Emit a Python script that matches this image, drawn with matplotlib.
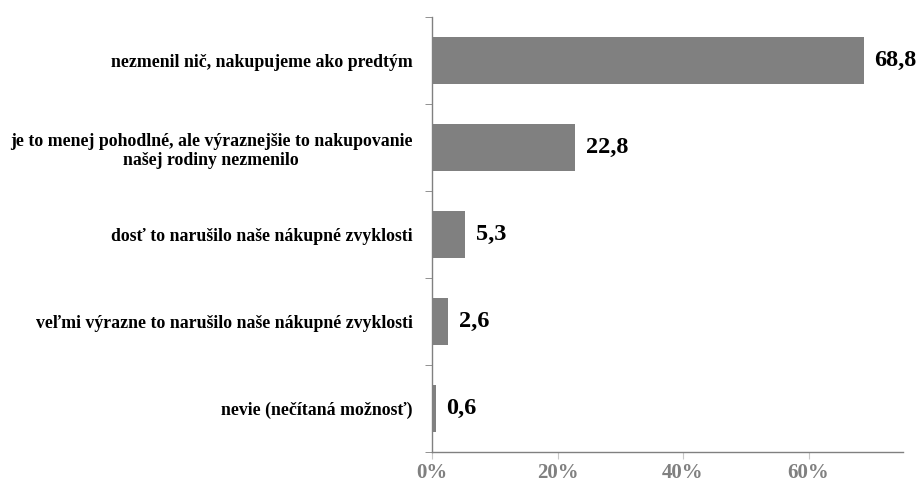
import matplotlib.pyplot as plt
from matplotlib.ticker import FixedLocator

categories = [
    "nezmenil nič, nakupujeme ako predtým",
    "je to menej pohodlné, ale výraznejšie to nakupovanie\nnašej rodiny nezmenilo",
    "dosť to narušilo naše nákupné zvyklosti",
    "veľmi výrazne to narušilo naše nákupné zvyklosti",
    "nevie (nečítaná možnosť)",
]
values = [68.8, 22.8, 5.3, 2.6, 0.6]
value_labels = ["68,8", "22,8", "5,3", "2,6", "0,6"]
x_ticks = [0, 20, 40, 60]
x_tick_labels = ["0%", "20%", "40%", "60%"]

plt.rcParams['font.family'] = ['Liberation Serif', 'DejaVu Serif']
plt.rcParams['font.weight'] = 'bold'

fig = plt.figure(figsize=(9.21, 4.84), dpi=100)
ax = fig.add_axes([432 / 921, 1 - 452 / 484, (902.7 - 432) / 921, (452 - 17) / 484])

grey = '#808080'
pos = list(range(len(categories)))
ax.barh(pos, values, height=0.55, color=grey)
ax.set_ylim(len(categories) - 0.5, -0.5)
ax.set_xlim(0, 75)

for p, v, lab in zip(pos, values, value_labels):
    ax.text(v + 1.7, p, lab, va='center', ha='left', fontsize=17.5,
            fontweight='bold', color='black')

# category labels
ax.set_yticks(pos)
ax.set_yticklabels(categories, fontsize=12.8, fontweight='bold', color='black',
                   multialignment='center')
ax.tick_params(axis='y', length=0, pad=14)
# boundary ticks on the y axis
ax.yaxis.set_minor_locator(FixedLocator([p - 0.5 for p in pos] + [len(pos) - 0.5]))
ax.tick_params(axis='y', which='minor', length=5, color=grey, direction='out')

ax.set_xticks(x_ticks)
ax.set_xticklabels(x_tick_labels, fontsize=15, fontweight='bold', color=grey)
ax.tick_params(axis='x', length=5, color='#c8c8c8', direction='out', pad=3)

for s in ['top', 'right']:
    ax.spines[s].set_visible(False)
for s in ['left', 'bottom']:
    ax.spines[s].set_color(grey)
    ax.spines[s].set_linewidth(1.0)

fig.savefig('out.png', dpi=100)
